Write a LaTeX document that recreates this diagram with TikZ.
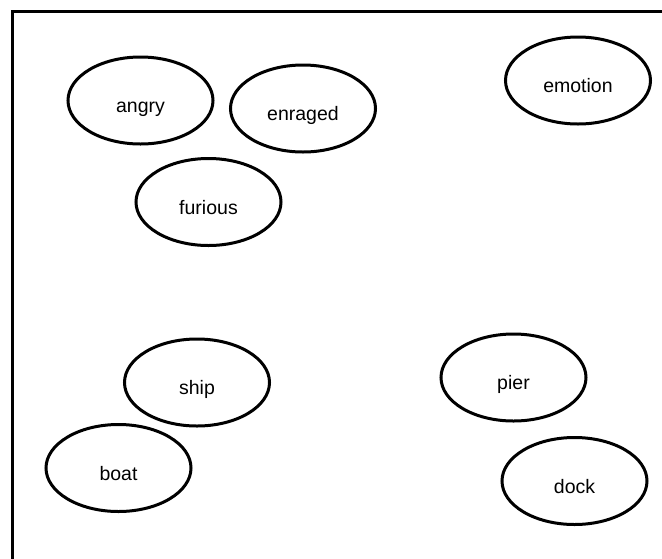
\documentclass[tikz,border=0pt]{standalone}
\usepackage{fontspec}
\setmainfont{Liberation Sans}
\usetikzlibrary{shapes.geometric}
\tikzset{
  word/.style={draw=black, line width=3pt, ellipse, minimum width=145pt, minimum height=87pt,
    inner sep=0pt, text height=24pt, text depth=0pt, font=\fontsize{19.5pt}{20pt}\selectfont},
  frame/.style={draw=black, line width=3pt}
}
\begin{document}
\begin{tikzpicture}[x=1pt, y=-1pt]
\useasboundingbox (0,0) rectangle (662,558);
\clip (0,0) rectangle (662,558);
\fill[white] (0,0) rectangle (662,558);
\path[frame] (12.5,11.5) rectangle (720,620);
\node[word] (angry) at (140.5,100.5) {angry};
\node[word] (enraged) at (303,108.5) {enraged};
\node[word] (emotion) at (578,80.5) {emotion};
\node[word] (furious) at (208.5,202) {furious};
\node[word] (ship) at (197,382.5) {ship};
\node[word] (pier) at (513.5,377.5) {pier};
\node[word] (boat) at (118.5,468) {boat};
\node[word] (dock) at (574.5,481) {dock};
\end{tikzpicture}
\end{document}
